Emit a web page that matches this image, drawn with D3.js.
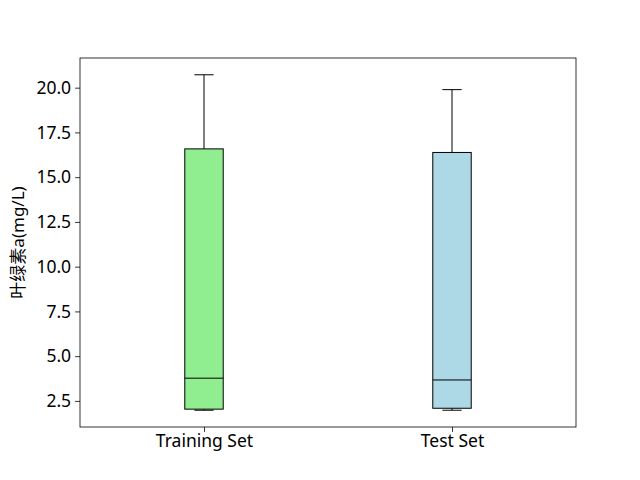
<!DOCTYPE html>
<html>
<head>
<meta charset="utf-8">
<script src="https://cdn.jsdelivr.net/npm/d3@7"></script>
<style>
  body { margin: 0; background: #fff; }
  text { font-family: "Noto Sans", "Noto Sans CJK SC", sans-serif; }
</style>
</head>
<body>
<script>
// boxplot stats
const categories = ['Training Set', 'Test Set'];
const boxColors = ['#90ee90', '#add8e6'];
const whiskerLow = [1.98, 1.98];
const q1 = [2.04, 2.09];
const medians = [3.77, 3.67];
const q3 = [16.58, 16.38];
const whiskerHigh = [20.72, 19.89];
const yTicks = [2.5, 5.0, 7.5, 10.0, 12.5, 15.0, 17.5, 20.0];
const yLabel = '叶绿素a(mg/L)';

const W = 640, H = 480;
const m = { left: 80, right: 64, top: 58, bottom: 53 };
const iw = W - m.left - m.right, ih = H - m.top - m.bottom;
const fs = 17.5;

const svg = d3.select('body').append('svg').attr('width', W).attr('height', H);
const g = svg.append('g').attr('transform', `translate(${m.left},${m.top})`);

// matplotlib-like 5% margin on data range
const lo = d3.min(whiskerLow), hi = d3.max(whiskerHigh);
const pad = (hi - lo) * 0.05;
const y = d3.scaleLinear().domain([lo - pad, hi + pad]).range([ih, 0]);
const x = d3.scaleLinear().domain([0.5, 2.5]).range([0, iw]);
const boxW = x(0.155) - x(0);

const yAxis = g.append('g').call(d3.axisLeft(y).tickValues(yTicks)
  .tickFormat(d3.format('.1f')).tickSize(4.9).tickPadding(4));
const xAxis = g.append('g').attr('transform', `translate(0,${ih})`)
  .call(d3.axisBottom(x).tickValues([1, 2]).tickFormat((d, i) => categories[i])
    .tickSize(4.9).tickPadding(3));
[yAxis, xAxis].forEach(a => {
  a.select('.domain').remove();
  a.selectAll('text').attr('font-size', fs).attr('fill', '#000')
    .style('font-family', '"Noto Sans", "Noto Sans CJK SC", sans-serif');
  a.selectAll('line').attr('stroke', '#000').attr('stroke-width', 0.8);
});

categories.forEach((c, i) => {
  const cx = x(i + 1);
  const bg = g.append('g');
  // whiskers
  bg.append('line').attr('x1', cx).attr('x2', cx)
    .attr('y1', y(q3[i])).attr('y2', y(whiskerHigh[i]))
    .attr('stroke', '#000').attr('stroke-width', 1);
  bg.append('line').attr('x1', cx).attr('x2', cx)
    .attr('y1', y(q1[i])).attr('y2', y(whiskerLow[i]))
    .attr('stroke', '#000').attr('stroke-width', 1);
  // caps
  [whiskerLow[i], whiskerHigh[i]].forEach(v => {
    bg.append('line').attr('x1', cx - boxW / 4).attr('x2', cx + boxW / 4)
      .attr('y1', y(v)).attr('y2', y(v))
      .attr('stroke', '#000').attr('stroke-width', 1);
  });
  // box
  bg.append('rect').attr('x', cx - boxW / 2).attr('width', boxW)
    .attr('y', y(q3[i])).attr('height', y(q1[i]) - y(q3[i]))
    .attr('fill', boxColors[i]).attr('stroke', '#000').attr('stroke-width', 1);
  // median
  bg.append('line').attr('x1', cx - boxW / 2).attr('x2', cx + boxW / 2)
    .attr('y1', y(medians[i])).attr('y2', y(medians[i]))
    .attr('stroke', '#000').attr('stroke-width', 1);
});

// frame
g.append('rect').attr('width', iw).attr('height', ih)
  .attr('fill', 'none').attr('stroke', '#000').attr('stroke-width', 0.8);

svg.append('text').attr('transform', `translate(24,${m.top + ih / 2}) rotate(-90)`)
  .attr('text-anchor', 'middle').attr('font-size', 17).text(yLabel);
</script>
</body>
</html>
